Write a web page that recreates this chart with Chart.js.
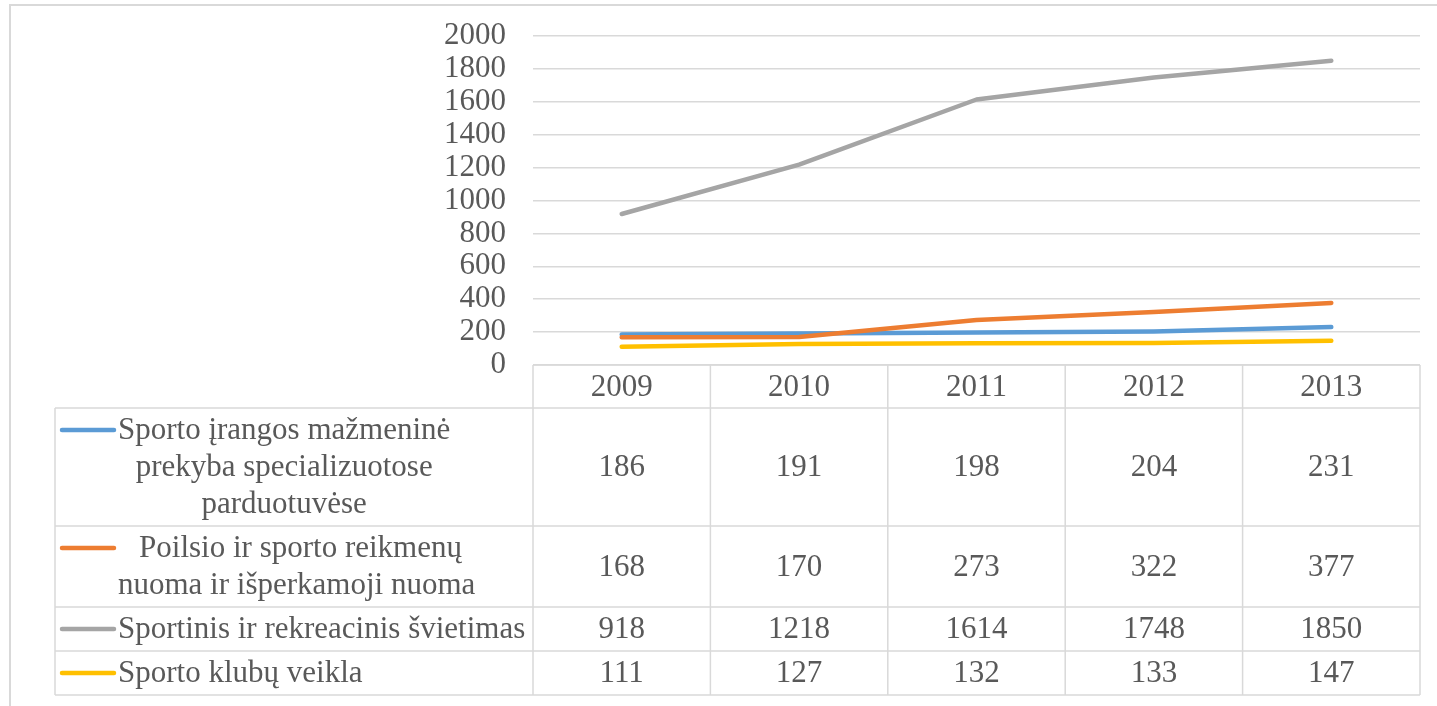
<!DOCTYPE html>
<html>
<head>
<meta charset="utf-8">
<script src="https://cdn.jsdelivr.net/npm/chart.js@4/dist/chart.umd.min.js"></script>
<style>
  html, body { margin: 0; padding: 0; background: #fff; }
  #wrap { position: relative; width: 1437px; height: 706px; }
  #frame { position: absolute; left: 9px; top: 4px; right: -10px; bottom: -10px; border: 2px solid #d9d9d9; box-sizing: border-box; }
  canvas { position: absolute; left: 0; top: 0; }
</style>
</head>
<body>
<div id="wrap">
  <div id="frame"></div>
  <canvas id="c" width="1437" height="706"></canvas>
</div>
<script>
// ---- data ----
const years = ['2009', '2010', '2011', '2012', '2013'];
const seriesNames = [
  ['Sporto įrangos mažmeninė', 'prekyba specializuotose', 'parduotuvėse'],
  [' Poilsio ir sporto reikmenų', 'nuoma ir išperkamoji nuoma'],
  ['Sportinis ir rekreacinis švietimas'],
  ['Sporto klubų veikla']
];
const retailValues = [186, 191, 198, 204, 231];
const rentalValues = [168, 170, 273, 322, 377];
const educationValues = [918, 1218, 1614, 1748, 1850];
const clubValues = [111, 127, 132, 133, 147];
const yTicks = [0, 200, 400, 600, 800, 1000, 1200, 1400, 1600, 1800, 2000];

const seriesValues = [retailValues, rentalValues, educationValues, clubValues];
const seriesColors = ['#5b9bd5', '#ed7d31', '#a5a5a5', '#ffc000'];

const FONT = '"Liberation Serif", "Times New Roman", serif';
const FSIZE = 31;
const TEXT = '#595959';
const GRID = '#d9d9d9';

const tablePlugin = {
  id: 'dataTable',
  afterDraw(chart) {
    const ctx = chart.ctx;
    const x = chart.scales.x;
    const area = chart.chartArea;
    const n = years.length;
    const colW = (area.right - area.left) / n;
    const headerTop = area.bottom;
    const headerH = 43;
    const lineH = 37;
    const tableLeft = 55;
    const keyX0 = 62, keyX1 = 114, textLeft = 118;

    ctx.save();
    ctx.strokeStyle = GRID;
    ctx.lineWidth = 1.5;
    ctx.font = FSIZE + 'px ' + FONT;
    ctx.fillStyle = TEXT;
    ctx.textBaseline = 'middle';

    // row geometry
    const rows = [];
    let y = headerTop + headerH;
    seriesNames.forEach(lines => {
      const h = lines.length * lineH + 7;
      rows.push({ top: y, h: h });
      y += h;
    });
    const tableBottom = y;

    // horizontal lines
    ctx.beginPath();
    ctx.moveTo(area.left, headerTop); ctx.lineTo(area.right, headerTop);
    ctx.moveTo(tableLeft, headerTop + headerH); ctx.lineTo(area.right, headerTop + headerH);
    rows.forEach(r => { ctx.moveTo(tableLeft, r.top + r.h); ctx.lineTo(area.right, r.top + r.h); });
    // vertical lines
    ctx.moveTo(tableLeft, headerTop + headerH); ctx.lineTo(tableLeft, tableBottom);
    for (let i = 0; i <= n; i++) {
      const cx = area.left + i * colW;
      ctx.moveTo(cx, headerTop); ctx.lineTo(cx, tableBottom);
    }
    ctx.stroke();

    // header years
    ctx.textAlign = 'center';
    years.forEach((yr, i) => {
      ctx.fillText(yr, x.getPixelForValue(i), headerTop + headerH / 2 + 1);
    });

    // rows
    seriesNames.forEach((lines, si) => {
      const r = rows[si];
      const firstY = r.top + r.h / 2 - (lines.length - 1) * lineH / 2;
      // legend key
      ctx.save();
      ctx.strokeStyle = seriesColors[si];
      ctx.lineWidth = 4.5;
      ctx.lineCap = 'round';
      ctx.beginPath();
      ctx.moveTo(keyX0, firstY); ctx.lineTo(keyX1, firstY);
      ctx.stroke();
      ctx.restore();
      // label text block (lines centered within block)
      let maxW = 0;
      lines.forEach(l => { maxW = Math.max(maxW, ctx.measureText(l).width); });
      const cx = textLeft + maxW / 2;
      lines.forEach((l, li) => {
        ctx.fillText(l, cx, firstY + li * lineH + 1);
      });
      // values
      seriesValues[si].forEach((v, i) => {
        ctx.fillText(String(v), x.getPixelForValue(i), r.top + r.h / 2 + 1);
      });
    });
    ctx.restore();
  }
};

new Chart(document.getElementById('c'), {
  type: 'line',
  data: {
    labels: years,
    datasets: seriesValues.map((vals, i) => ({
      label: seriesNames[i].join(' '),
      data: vals,
      borderColor: seriesColors[i],
      backgroundColor: seriesColors[i],
      borderWidth: 4.5,
      borderCapStyle: 'round',
      borderJoinStyle: 'round',
      pointRadius: 0,
      tension: 0,
      order: 4 - i
    }))
  },
  options: {
    responsive: false,
    animation: false,
    devicePixelRatio: 1,
    layout: { padding: { left: 0, right: 17, top: 36, bottom: 341 } },
    plugins: { legend: { display: false }, tooltip: { enabled: false } },
    scales: {
      x: {
        type: 'category',
        offset: true,
        display: false
      },
      y: {
        min: 0,
        max: 2000,
        afterFit(scale) { scale.width = 533; scale.paddingTop = 0; scale.paddingBottom = 0; },
        afterBuildTicks(scale) { scale.ticks = yTicks.map(v => ({ value: v })); },
        border: { display: false },
        grid: { color: GRID, lineWidth: 1.5, drawTicks: false },
        ticks: {
          autoSkip: false,
          padding: 27,
          color: TEXT,
          font: { family: FONT, size: FSIZE, lineHeight: 1 },
          callback: v => String(v)
        }
      }
    }
  },
  plugins: [tablePlugin]
});
</script>
</body>
</html>
